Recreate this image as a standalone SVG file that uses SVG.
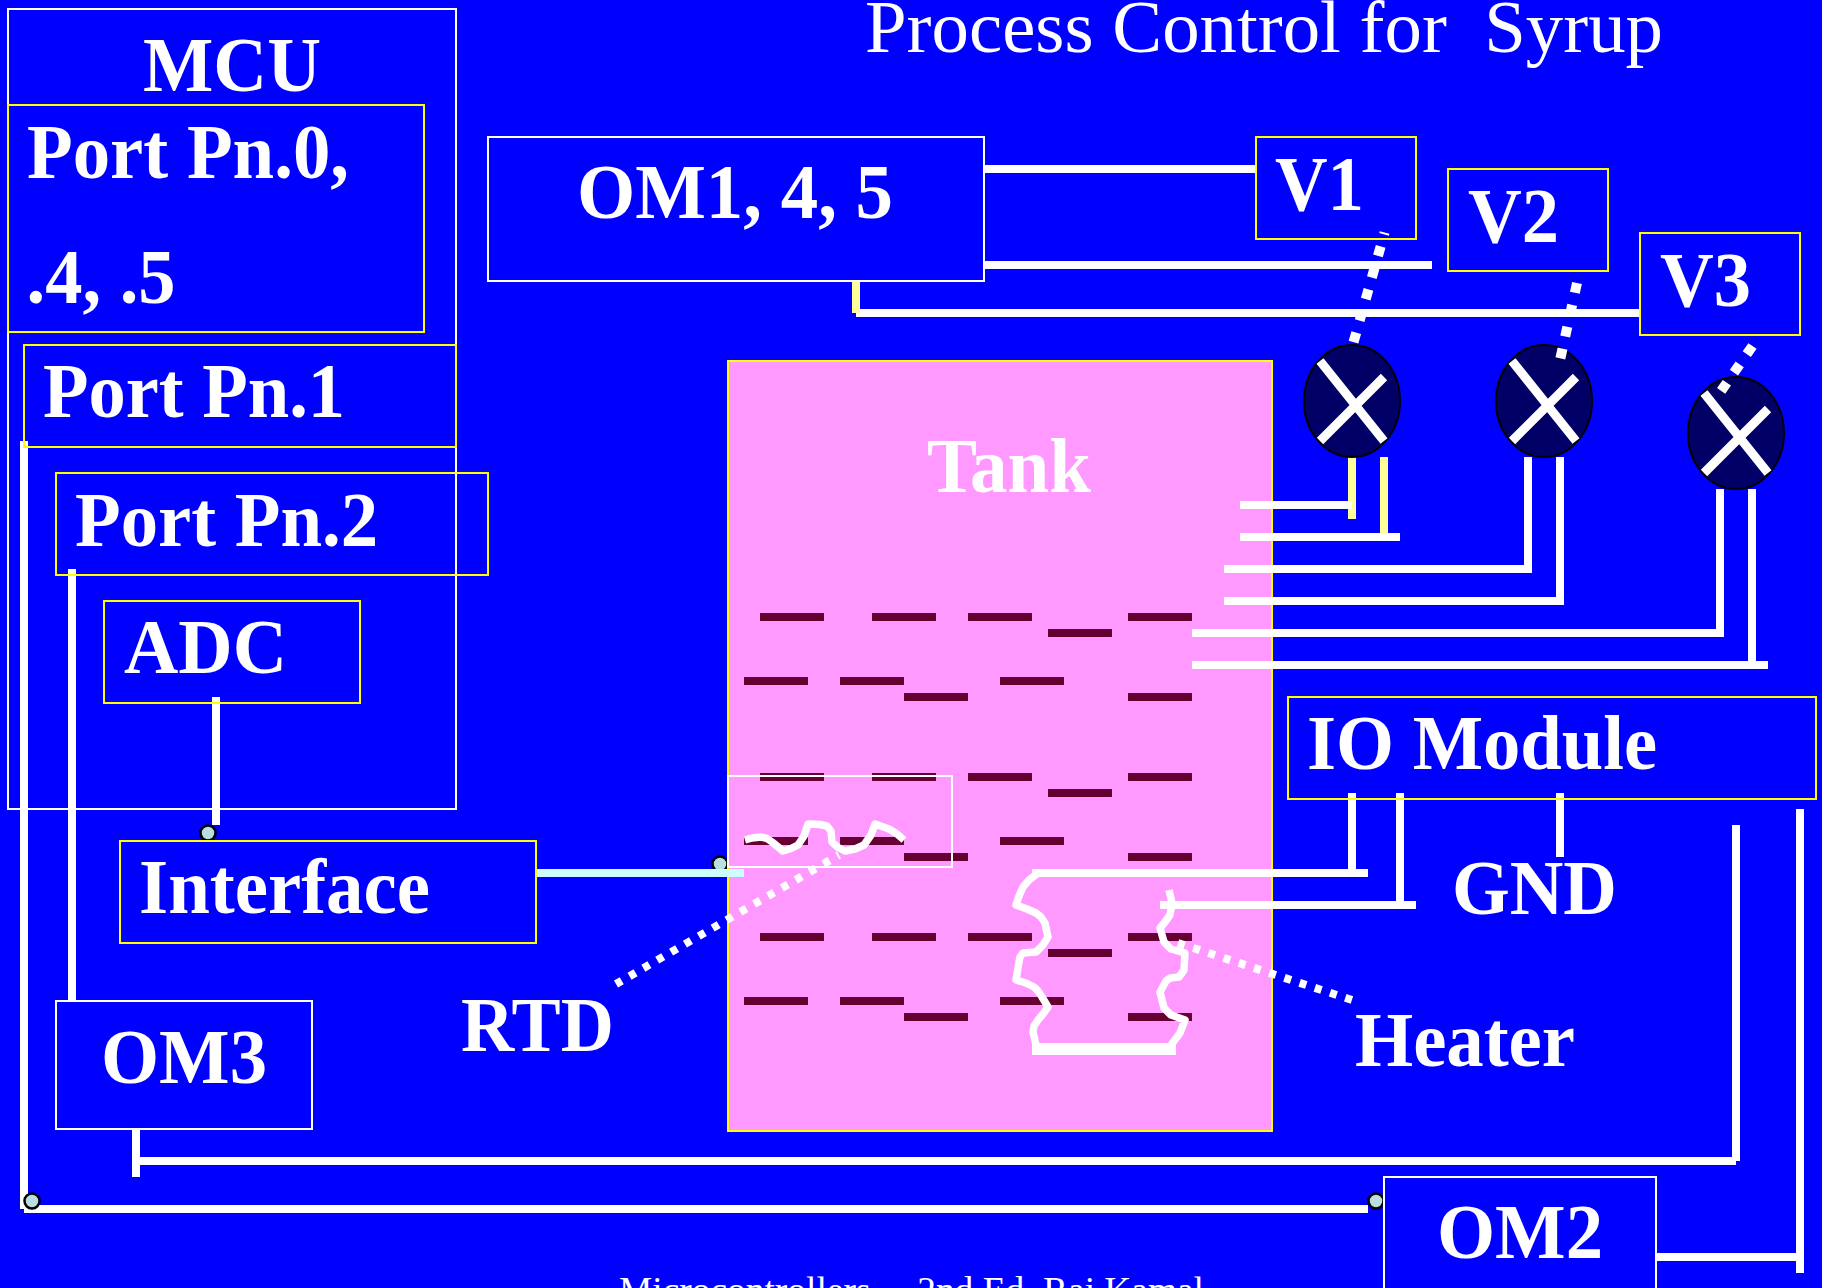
<svg xmlns="http://www.w3.org/2000/svg" width="1822" height="1288" viewBox="0 0 1822 1288">
<style>
.bw{fill:none;stroke:#fff;stroke-width:2}
.by{fill:none;stroke:#ff0;stroke-width:2}
.b{font-family:"Liberation Serif","Times New Roman",serif;font-weight:700;font-size:78px;fill:#fff}
.r{font-family:"Liberation Serif","Times New Roman",serif;font-weight:400;fill:#fff;white-space:pre}
.w{stroke:#fff;stroke-width:8;fill:none}
.py{stroke:#ffff99;stroke-width:8;fill:none}
.sq{stroke:#fff;stroke-width:10;fill:none;stroke-dasharray:10 12.4}
.sm{stroke:#fff;stroke-width:8;fill:none;stroke-dasharray:7 9}
.cv{stroke:#fff;stroke-width:7.5;fill:none;stroke-linejoin:round}
.d{fill:#660033}
.v{fill:#000066;stroke:#000;stroke-width:2}
.x{stroke:#fff;stroke-width:9;fill:none}
.c{fill:#b8e0e0;stroke:#000;stroke-width:2.5}
</style>
<defs>
<g id="dashes">
<rect class="d" x="760" y="613" width="64" height="8"/><rect class="d" x="872" y="613" width="64" height="8"/><rect class="d" x="968" y="613" width="64" height="8"/><rect class="d" x="1128" y="613" width="64" height="8"/>
<rect class="d" x="1048" y="629" width="64" height="8"/>
<rect class="d" x="744" y="677" width="64" height="8"/><rect class="d" x="840" y="677" width="64" height="8"/><rect class="d" x="1000" y="677" width="64" height="8"/>
<rect class="d" x="904" y="693" width="64" height="8"/><rect class="d" x="1128" y="693" width="64" height="8"/>
</g>
<g id="valve">
<ellipse class="v" cx="1352" cy="401" rx="48" ry="56"/>
<path class="x" d="M1320 361L1384 441M1320 441L1384 377"/>
</g>
</defs>
<rect x="0" y="0" width="1822" height="1288" fill="#0000ff"/>
<text id="title" class="r" x="865" y="52" font-size="75" textLength="798" lengthAdjust="spacingAndGlyphs">Process Control for  Syrup</text>
<g id="mcu"><rect class="bw" x="8" y="9" width="448" height="800"/><text class="b" x="143" y="91" textLength="178" lengthAdjust="spacingAndGlyphs">MCU</text></g>
<circle id="joint-rtd" class="c" cx="720" cy="864" r="7.500"/>
<g id="tank"><rect x="728" y="361" width="544" height="770" fill="#ff99ff" stroke="#ff0" stroke-width="2"/>
<text x="927" y="492" class="b" textLength="164" lengthAdjust="spacingAndGlyphs">Tank</text>
<use href="#dashes"/><use href="#dashes" y="160"/><use href="#dashes" y="320"/></g>
<g id="connectors">
<path class="w" d="M984 169H1256M984 265H1432M856 313H1640"/>
<path class="py" d="M856 281V313M1352 457V519M1384 457V537"/>
<path class="w" d="M1528 457V569M1560 457V601M1720 489V633M1752 489V665"/>
<path class="w" d="M1240 505H1352M1240 537H1400M1224 569H1532M1224 601H1564M1192 633H1724M1192 665H1768"/>
<path class="w" d="M24 441V1209M72 569V1001M216 697V825M136 1129V1177M24 1209H1368M136 1161H1736M1736 825V1161M1800 809V1273M1656 1257H1800"/>
<path class="w" d="M1352 793V873M1400 793V905M1560 793V857M1032 873H1368M1160 905H1416"/>
<path d="M536 873H744" stroke="#ccffff" stroke-width="8" fill="none"/>
<rect x="1032" y="1043" width="144" height="12" fill="#fff"/>
<path class="sq" stroke-dashoffset="8" d="M1384.6 232.5L1353 344"/>
<path class="sm" stroke-dashoffset="5" d="M839 855L616 984"/>
<path class="sm" d="M1178 943L1352 1000"/>
<path class="cv" d="M745 840L752 838L761 837L767 838.500L772 842L783 851L791 848.500L798 845L804 836L808 824L820 824.500L827 826L831 831L832 842L838 847.500L845 851L855 849L864 845L871 835L875 824L889 829L897 834L904 840"/>
<path class="cv" d="M1038 873L1029 880L1023 887L1019 896L1016 905L1027 909L1036 913L1041 917L1045 923L1048 937L1043 945L1036 952L1023 953L1020 957L1019 962L1016 980L1026 983L1034 987L1038 991L1042 997L1048 1007L1043 1014L1038 1020L1034 1026L1033 1032L1036 1045"/>
<path class="cv" d="M1169 890L1172 903L1170 915L1165 922L1160 928L1164 942L1171 949L1185 953L1184 970L1179 977L1170 978L1166 981L1160 992L1164 1008L1171 1015L1185 1020L1180 1033L1171 1045"/>
<rect class="bw" x="728" y="776" width="224" height="91"/>
</g>
<g id="joints">
<circle class="c" cx="208" cy="833" r="7.500"/><circle class="c" cx="32" cy="1201" r="7.500"/><circle class="c" cx="1376" cy="1201" r="7.500"/>
</g>
<g id="port0"><rect class="by" x="8" y="105" width="416" height="227"/><text class="b" x="27" y="178" textLength="322" lengthAdjust="spacingAndGlyphs">Port Pn.0,</text><text class="b" x="26.500" y="303" textLength="149" lengthAdjust="spacingAndGlyphs">.4, .5</text></g>
<g id="port1"><rect class="by" x="24" y="345" width="432" height="102"/><text class="b" x="43" y="417" textLength="302" lengthAdjust="spacingAndGlyphs">Port Pn.1</text></g>
<g id="port2"><rect class="by" x="56" y="473" width="432" height="102"/><text class="b" x="75" y="546" textLength="303" lengthAdjust="spacingAndGlyphs">Port Pn.2</text></g>
<g id="adc"><rect class="by" x="104" y="601" width="256" height="102"/><text class="b" x="124" y="673" textLength="163" lengthAdjust="spacingAndGlyphs">ADC</text></g>
<g id="interface"><rect class="by" x="120" y="841" width="416" height="102"/><text class="b" x="139" y="913" textLength="291" lengthAdjust="spacingAndGlyphs">Interface</text></g>
<g id="om3"><rect class="bw" x="56" y="1001" width="256" height="128"/><text class="b" x="101" y="1083" textLength="166" lengthAdjust="spacingAndGlyphs">OM3</text></g>
<g id="om145"><rect class="bw" x="488" y="137" width="496" height="144"/><text class="b" x="577" y="218" textLength="316" lengthAdjust="spacingAndGlyphs">OM1, 4, 5</text></g>
<g id="v1"><rect class="by" x="1256" y="137" width="160" height="102"/><text class="b" x="1275" y="210" textLength="89" lengthAdjust="spacingAndGlyphs">V1</text></g>
<g id="v2"><rect class="by" x="1448" y="169" width="160" height="102"/><text class="b" x="1468" y="242" textLength="91" lengthAdjust="spacingAndGlyphs">V2</text></g>
<g id="v3"><rect class="by" x="1640" y="233" width="160" height="102"/><text class="b" x="1660" y="306" textLength="91" lengthAdjust="spacingAndGlyphs">V3</text></g>
<g id="valve1"><use href="#valve"/></g>
<g id="valve2"><use href="#valve" x="192"/></g>
<g id="valve3"><use href="#valve" x="384" y="32"/></g>
<g id="overdots"><path class="sq" d="M1577 283L1560 360"/><path class="sq" d="M1752.5 346L1719 394"/></g>
<g id="io"><rect class="by" x="1288" y="697" width="528" height="102"/><text class="b" x="1307" y="769" textLength="350" lengthAdjust="spacingAndGlyphs">IO Module</text></g>
<g id="om2"><rect class="bw" x="1384" y="1177" width="272" height="128"/><text class="b" x="1437" y="1258" textLength="166" lengthAdjust="spacingAndGlyphs">OM2</text></g>
<g id="labels">
<text class="b" x="1452" y="914" textLength="165" lengthAdjust="spacingAndGlyphs">GND</text>
<text class="b" x="1355" y="1066" textLength="220" lengthAdjust="spacingAndGlyphs">Heater</text>
<text class="b" x="461" y="1051" textLength="153" lengthAdjust="spacingAndGlyphs">RTD</text>
</g>
<text id="footer" class="r" x="619" y="1303" font-size="38" textLength="585" lengthAdjust="spacingAndGlyphs">Microcontrollers     2nd Ed. Raj Kamal</text>
</svg>
